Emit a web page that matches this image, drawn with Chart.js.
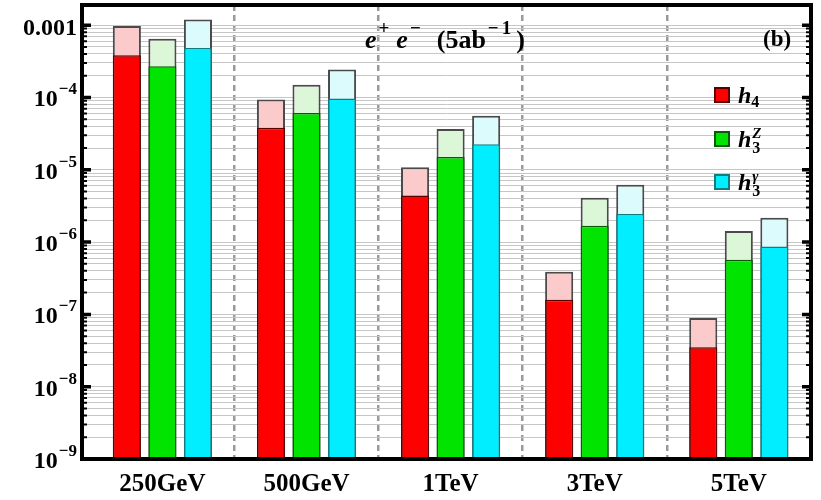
<!DOCTYPE html>
<html><head><meta charset="utf-8">
<script src="https://cdn.jsdelivr.net/npm/chart.js@4/dist/chart.umd.min.js"></script>
<style>html,body{margin:0;padding:0;background:#fff}</style>
</head><body>
<canvas id="c" width="821" height="500"></canvas>
<script>
// ---- data ----
const categories = ['250GeV', '500GeV', '1TeV', '3TeV', '5TeV'];
const seriesNames = ['h4', 'h3Z', 'h3γ'];
const h4Lower  = [3.85e-4, 3.8e-5, 4.4e-6, 1.6e-7, 3.5e-8];
const h4Upper  = [9.7e-4, 9.4e-5, 1.08e-5, 3.9e-7, 8.9e-8];
const h3ZLower = [2.7e-4, 6.1e-5, 1.5e-5, 1.68e-6, 5.7e-7];
const h3ZUpper = [6.5e-4, 1.5e-4, 3.66e-5, 4.1e-6, 1.42e-6];
const h3gLower = [4.85e-4, 9.7e-5, 2.25e-5, 2.45e-6, 8.7e-7];
const h3gUpper = [1.2e-3, 2.43e-4, 5.6e-5, 6.2e-6, 2.17e-6];
const yDecades = [-9, -8, -7, -6, -5, -4, -3];
const yMin = 1e-9, yMax = 1.9e-3;

// ---- styles ----
const darkColors  = ['#ff0000', '#00e400', '#00eeff'];
const lightColors = ['#fbcaca', '#dcf6d8', '#dcfbfd'];
const edgeColors  = ['#5a0000', '#0a5a0a', '#137a80'];
const SERIF = '"Liberation Serif", "Times New Roman", serif';

const lowers = [h4Lower, h3ZLower, h3gLower];
const uppers = [h4Upper, h3ZUpper, h3gUpper];
const toXY = arr => arr.map((v, i) => ({x: i, y: v}));

const datasets = [];
seriesNames.forEach((n, s) => {
  datasets.push({label: n, data: toXY(lowers[s]), backgroundColor: darkColors[s],
    borderColor: edgeColors[s], borderWidth: 1.5, stack: n, order: 1});
});
seriesNames.forEach((n, s) => {
  datasets.push({label: n + ' upper', data: toXY(uppers[s]), backgroundColor: lightColors[s],
    borderColor: '#4a4a4a', borderWidth: 2, stack: n, order: 2});
});

const yTickValues = [];
yDecades.forEach(e => {
  for (let k = 1; k <= 9; k++) {
    const v = parseFloat((k * Math.pow(10, e)).toPrecision(3));
    if (v <= yMax) yTickValues.push(v);
  }
});
const isDecade = v => Math.abs(Math.log10(v) - Math.round(Math.log10(v))) < 1e-6;

function drawRuns(c, runs, x, y, align, sx) {
  sx = sx || 1;
  let w = 0;
  runs.forEach(r => { c.font = r.f; r.w = c.measureText(r.t).width; w += (r.gap || 0) + (r.keep ? 0 : r.w); });
  const last = runs[runs.length - 1];
  if (last.keep) w += last.w;
  let cx = align === 'right' ? x - w * sx : (align === 'center' ? x - w * sx / 2 : x);
  c.save();
  c.translate(cx, y); c.scale(sx, 1);
  c.textAlign = 'left'; c.textBaseline = 'alphabetic'; c.fillStyle = '#000';
  let p = 0;
  runs.forEach(r => {
    p += r.gap || 0;
    c.font = r.f;
    c.fillText(r.t, p, r.dy || 0);
    if (!r.keep) p += r.w;
  });
  c.restore();
}

const decor = {
  id: 'decor',
  afterDraw(chart) {
    const c = chart.ctx, a = chart.chartArea, ys = chart.scales.y;
    c.save();
    c.strokeStyle = '#000';
    ys.ticks.forEach(t => {
      const py = ys.getPixelForValue(t.value);
      const maj = isDecade(t.value);
      const len = maj ? 9 : 5;
      c.lineWidth = maj ? 3.5 : 2;
      c.beginPath();
      c.moveTo(a.left, py); c.lineTo(a.left + len, py);
      c.moveTo(a.right, py); c.lineTo(a.right - len, py);
      c.stroke();
    });
    c.lineWidth = 4;
    c.strokeRect(a.left, a.top, a.right - a.left, a.bottom - a.top);
    c.restore();

    // y labels
    const base = 'bold 24px ' + SERIF, sup = 'bold 17px ' + SERIF;
    ys.ticks.forEach(t => {
      if (!isDecade(t.value)) return;
      const py = ys.getPixelForValue(t.value);
      const e = Math.round(Math.log10(t.value));
      if (e === -3) {
        drawRuns(c, [{t: '0.001', f: base}], 77, py + 10, 'right');
      } else {
        drawRuns(c, [{t: '10', f: base}, {t: '\u2212' + (-e), f: sup, dy: -12, gap: 1}], 77, py + 9, 'right');
      }
    });

    // title
    const it = 'italic bold 26px ' + SERIF, bd = 'bold 26px ' + SERIF, sp = 'bold 19px ' + SERIF;
    drawRuns(c, [
      {t: 'e', f: it}, {t: '+', f: sp, dy: -14, gap: 2},
      {t: 'e', f: it, gap: 7}, {t: '\u2212', f: sp, dy: -14, gap: 2},
      {t: '(5ab', f: bd, gap: 16}, {t: '\u2212', f: sp, dy: -14, gap: 2},
      {t: '1', f: sp, dy: -14, gap: 3}, {t: ')', f: bd, gap: 5}
    ], 365, 48, 'left');
    drawRuns(c, [{t: '(b)', f: 'bold 23px ' + SERIF}], 763, 46, 'left');

    // legend
    const hF = 'italic bold 24px ' + SERIF, subF = 'bold 16px ' + SERIF, supF = 'italic bold 15px ' + SERIF;
    const rows = [
      [{t: 'h', f: hF}, {t: '4', f: subF, dy: 4, gap: 0}],
      [{t: 'h', f: hF}, {t: 'Z', f: supF, dy: -9, gap: 1, keep: true}, {t: '3', f: subF, dy: 6, gap: 0}],
      [{t: 'h', f: hF}, {t: '\u03b3', f: supF, dy: -9, gap: 1, keep: true}, {t: '3', f: subF, dy: 6, gap: 0}]
    ];
    const legendY = [95, 139, 182];
    rows.forEach((runs, s) => {
      const cy = legendY[s];
      c.save();
      c.fillStyle = darkColors[s]; c.strokeStyle = edgeColors[s]; c.lineWidth = 2;
      c.fillRect(715, cy - 7, 14, 14); c.strokeRect(715, cy - 7, 14, 14);
      c.restore();
      drawRuns(c, runs, 738, cy + 8, 'left');
    });
  }
};

new Chart(document.getElementById('c'), {
  type: 'bar',
  data: {datasets},
  options: {
    responsive: false,
    animation: false,
    layout: {padding: {top: 5, right: 10, left: 0, bottom: 0}},
    plugins: {legend: {display: false}, tooltip: {enabled: false}},
    datasets: {bar: {categoryPercentage: 0.74, barPercentage: 0.79}},
    scales: {
      x: {
        type: 'linear', min: -0.558, max: 4.501, position: 'bottom', offset: false,
        afterBuildTicks: s => { s.ticks = categories.map((_, i) => ({value: i})); },
        ticks: {
          autoSkip: false, maxRotation: 0, padding: 3, color: '#000',
          font: {family: SERIF, weight: 'bold', size: 25},
          callback: v => categories[Math.round(v)] || ''
        },
        grid: {display: false},
        border: {display: false},
        afterFit: s => { s.height = 41; }
      },
      xsep: {
        type: 'linear', min: -0.558, max: 4.501, position: 'bottom', offset: false,
        afterBuildTicks: s => { s.ticks = categories.slice(1).map((_, i) => ({value: i + 0.5})); },
        ticks: {display: false},
        grid: {offset: false, color: '#9a9a9a', lineWidth: 2.5, drawTicks: false},
        border: {display: false, dash: [6, 4]},
        afterFit: s => { s.height = 0; }
      },
      y: {
        type: 'logarithmic', min: yMin, max: yMax, stacked: false,
        afterBuildTicks: s => { s.ticks = yTickValues.map(v => ({value: v})); },
        ticks: {display: false},
        grid: {color: '#c6c6c6', lineWidth: 1, drawTicks: false},
        border: {display: false},
        afterFit: s => { s.height = undefined; s.width = 82; }
      }
    }
  },
  plugins: [decor]
});
</script>
</body></html>
